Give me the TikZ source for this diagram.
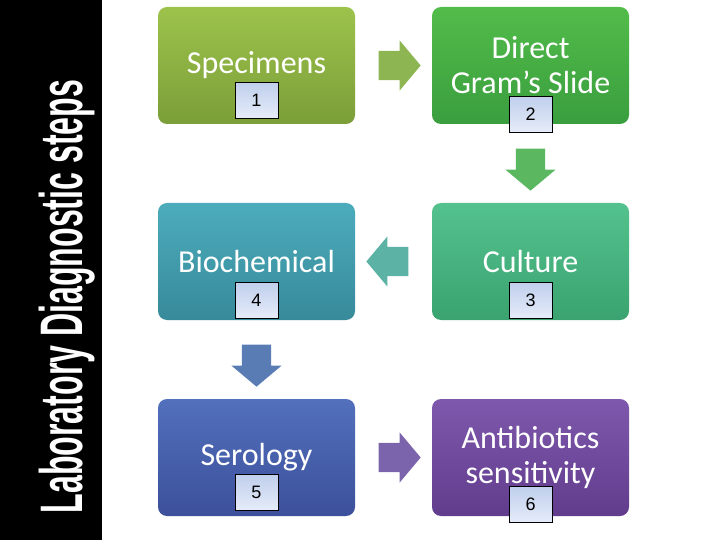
\documentclass[tikz,border=0pt]{standalone}
\usepackage{fontspec}
\setmainfont{Carlito}
\newfontfamily\numfont{Liberation Sans}
\usepackage{tikz}
\usetikzlibrary{shapes.arrows,calc,positioning}
\definecolor{grA}{RGB}{157,195,76}  \definecolor{grAd}{RGB}{123,158,56}
\definecolor{grB}{RGB}{82,188,74}   \definecolor{grBd}{RGB}{58,158,62}
\definecolor{grC}{RGB}{84,194,142}  \definecolor{grCd}{RGB}{58,163,112}
\definecolor{tlD}{RGB}{76,172,188}  \definecolor{tlDd}{RGB}{55,138,154}
\definecolor{blE}{RGB}{82,112,188}  \definecolor{blEd}{RGB}{60,80,155}
\definecolor{prF}{RGB}{126,88,172}  \definecolor{prFd}{RGB}{98,60,140}
\definecolor{numtop}{RGB}{192,207,236}
\definecolor{numbot}{RGB}{230,236,249}
\tikzset{
  stepbox/.style = {rounded corners=9pt, minimum width=197pt, minimum height=117pt,
    align=center, text=white, font=\fontsize{32}{35}\selectfont},% one step
  numbox/.style = {draw=black, line width=0.8pt, top color=numtop, bottom color=numbot,
    minimum width=43pt, minimum height=36pt, inner sep=0pt,
    font=\numfont\fontsize{18}{18}\selectfont},% step number
  blockarrow/.style = {single arrow, inner xsep=0pt, inner ysep=14.5pt, minimum height=42pt,
    minimum width=50pt, single arrow head extend=10.5pt,
    single arrow tip angle=100}% arrow between steps
}
\begin{document}
\begin{tikzpicture}[x=1pt, y=-1pt]
  \useasboundingbox (0,0) rectangle (720,540);
  % title bar
  \fill[black] (0,0) rectangle (102,540);
  \node[rotate=90, text=white, inner sep=0pt] (title) at (67.5,296.5)
    {\scalebox{0.535}[1]{\numfont\bfseries\fontsize{60}{60}\selectfont Laboratory Diagnostic steps}};
  % steps
  \node[stepbox, top color=grA, bottom color=grAd] (spec) at (256.5,65.5) {Specimens};
  \node[stepbox, top color=grB, bottom color=grBd] (gram) at (530.5,65.5) {Direct\\Gram’s Slide};
  \node[stepbox, top color=grC, bottom color=grCd] (cult) at (530.5,261.5) {Culture};
  \node[stepbox, top color=tlD, bottom color=tlDd] (bioc) at (256.5,261.5) {Biochemical};
  \node[stepbox, top color=blE, bottom color=blEd] (sero) at (256.5,457.5) {Serology};
  \node[stepbox, top color=prF, bottom color=prFd] (anti) at (530.5,457.5) {Antibiotics\\sensitivity};
  % numbers
  \node[numbox] (n1) at ([yshift=24pt]spec.south) {1};
  \node[numbox] (n2) at ([yshift=10pt]gram.south) {2};
  \node[numbox] (n3) at ([yshift=20pt]cult.south) {3};
  \node[numbox] (n4) at ([yshift=20pt]bioc.south) {4};
  \node[numbox] (n5) at ([yshift=23.5pt]sero.south) {5};
  \node[numbox] (n6) at ([yshift=11.5pt]anti.south) {6};
  % arrows
  \node[blockarrow, fill={rgb,255:red,141;green,181;blue,82}] (a12) at ($(spec.east)!0.5!(gram.west)$) {};
  \node[blockarrow, fill={rgb,255:red,92;green,184;blue,96}, rotate=-90] (a23) at ($(gram.south)!0.5!(cult.north)$) {};
  \node[blockarrow, fill={rgb,255:red,92;green,178;blue,165}, rotate=180] (a34) at ($(cult.west)!0.5!(bioc.east)$) {};
  \node[blockarrow, fill={rgb,255:red,90;green,124;blue,180}, rotate=-90] (a45) at ($(bioc.south)!0.5!(sero.north)$) {};
  \node[blockarrow, fill={rgb,255:red,124;green,100;blue,172}] (a56) at ($(sero.east)!0.5!(anti.west)$) {};
\end{tikzpicture}
\end{document}
